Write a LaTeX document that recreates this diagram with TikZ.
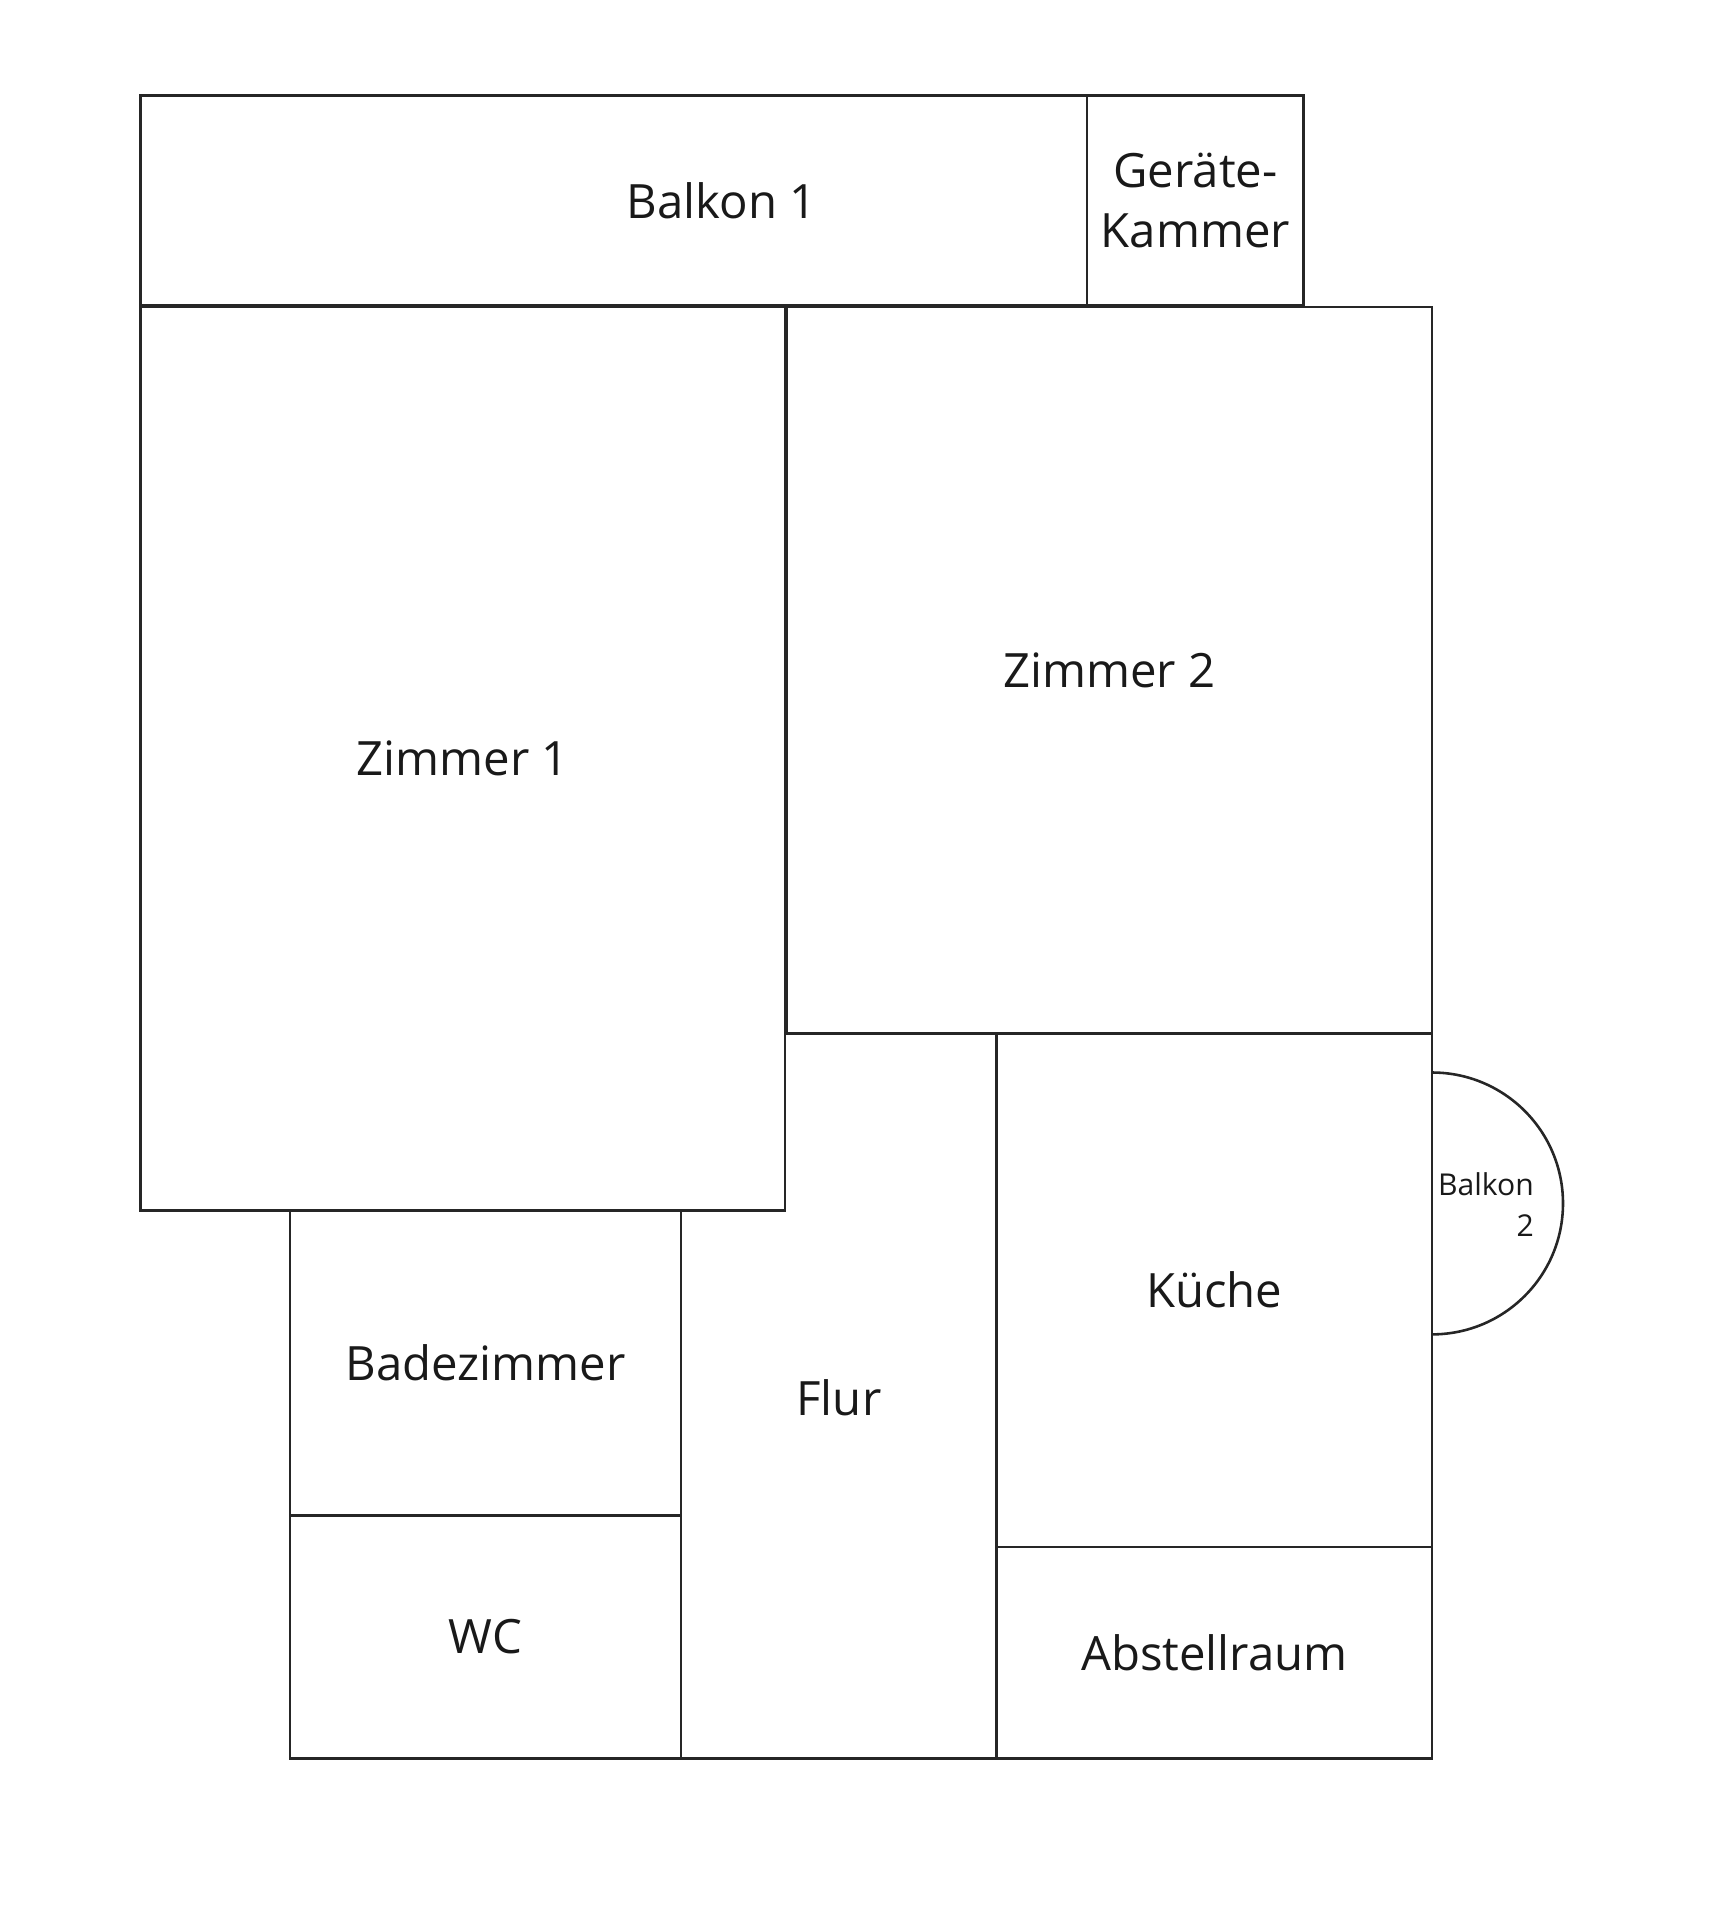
\documentclass[tikz,border=0pt]{standalone}
\usepackage{fontspec}
\setmainfont{Open Sans}
\newcommand{\room}[6][]{%
  \draw[wall] (#2,#3) rectangle (#4,#5);
  \node[label,#1] at ({(#2+#4)/2},{(#3+#5)/2}) {#6};}
\begin{document}
\begin{tikzpicture}[x=0.01cm,y=-0.01cm,
    wall/.style={draw=black!85,line width=0.6pt},
    label/.style={font=\fontsize{11}{14}\selectfont,align=center,text=black!90}]
    \useasboundingbox (0,0) rectangle (1410,1570);
    \room[xshift=0.88cm]{115}{78}{889}{250}{Balkon 1}
    \room{889}{78}{1066}{250}{Geräte-\\Kammer}
    \room{115}{251}{642}{990}{Zimmer 1}
    \room{643}{251}{1171}{845}{Zimmer 2}
    \room{815}{845}{1171}{1265}{Küche}
    \room{815}{1265}{1171}{1438}{Abstellraum}
    \room{237}{990}{557}{1239}{Badezimmer}
    \room{237}{1239}{557}{1438}{WC}
    % Flur
    \draw[wall] (643,845) -- (815,845) -- (815,1438) -- (557,1438)
      -- (557,990) -- (643,990);
    \node[label] (flur) at (686,1143) {Flur};
    % Balkon 2
    \draw[wall] (1171,877) arc[start angle=90,end angle=-90,radius=1.07cm];
    \node[label,font=\fontsize{7}{9.5}\selectfont,align=right] (balkon2) at (1215,985) {Balkon\\2};
\end{tikzpicture}
\end{document}
